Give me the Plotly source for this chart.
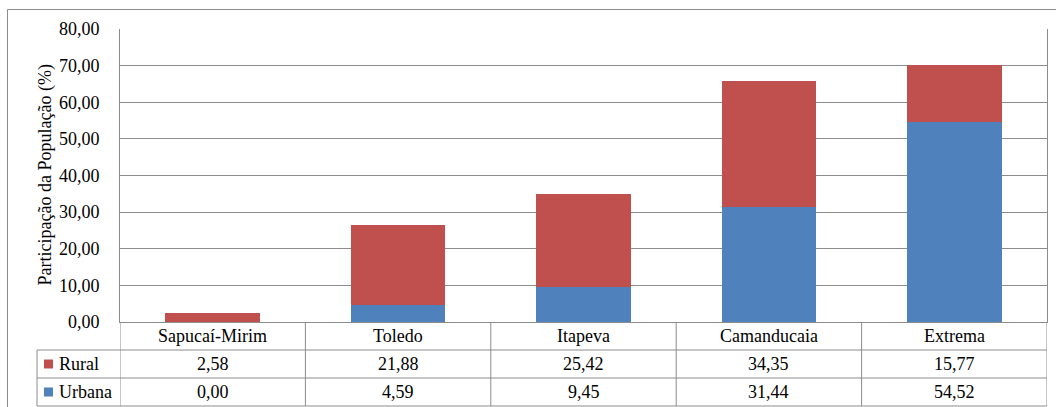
import plotly.graph_objects as go

# Municipal population share by area (%)
municipios = ["Sapucaí-Mirim", "Toledo", "Itapeva", "Camanducaia", "Extrema"]
rural = [2.58, 21.88, 25.42, 34.35, 15.77]
urbana = [0.00, 4.59, 9.45, 31.44, 54.52]
y_ticks = [0, 10, 20, 30, 40, 50, 60, 70, 80]

COR_RURAL = "#C0504D"
COR_URBANA = "#4F81BD"
GRID = "#8C8C8C"
FONT = "'Times New Roman', 'Liberation Serif', 'DejaVu Serif', serif"

W, H = 1056, 407
L, R, T, B = 120, 9, 29, 85
plot_w = W - L - R
plot_h = H - T - B


def py(pix):
    """Pixel row -> paper y."""
    return (H - B - pix) / plot_h


def px(pix):
    return (pix - L) / plot_w


fig = go.Figure()
fig.add_trace(go.Bar(x=municipios, y=urbana, name="Urbana", marker_color=COR_URBANA,
                     marker_line_width=0, width=0.51))
fig.add_trace(go.Bar(x=municipios, y=rural, name="Rural", marker_color=COR_RURAL,
                     marker_line_width=0, width=0.51))

shapes = []
# outer chart frame
shapes.append(dict(type="rect", xref="paper", yref="paper", x0=px(7.5), x1=px(1070),
                   y0=py(420), y1=py(9.5), line=dict(color="#8C8C8C", width=1), layer="below"))

# data table rows
row_lines = [350, 378, 406]
for r_pix in row_lines:
    shapes.append(dict(type="line", xref="paper", yref="paper", x0=px(37), x1=1,
                       y0=py(r_pix), y1=py(r_pix), line=dict(color=GRID, width=1)))
# column separators
n = len(municipios)
for i in range(n + 1):
    shapes.append(dict(type="line", xref="x", yref="paper", x0=i - 0.5, x1=i - 0.5,
                       y0=0, y1=py(406), line=dict(color=GRID, width=1)))
shapes.append(dict(type="line", xref="paper", yref="paper", x0=px(37), x1=px(37),
                   y0=py(350), y1=py(406), line=dict(color=GRID, width=1)))

txt_font = dict(family=FONT, size=18, color="#000")
annotations = []
fmt = lambda v: f"{v:.2f}".replace(".", ",")
for i, nome in enumerate(municipios):
    for row_pix, text in [(336, nome), (364, fmt(rural[i])), (392, fmt(urbana[i]))]:
        annotations.append(dict(x=nome, xref="x", yref="paper", y=py(row_pix), text=text,
                                xanchor="center", yanchor="middle", showarrow=False,
                                font=txt_font))

# legend keys within the table
for label, cor, row_pix in [("Rural", COR_RURAL, 364), ("Urbana", COR_URBANA, 392)]:
    shapes.append(dict(type="rect", xref="paper", yref="paper", x0=px(44), x1=px(53),
                       y0=py(row_pix + 4.5), y1=py(row_pix - 4.5), fillcolor=cor,
                       line=dict(width=0)))
    annotations.append(dict(x=px(57), xref="paper", yref="paper", y=py(row_pix), text=label,
                            xanchor="left", yanchor="middle", showarrow=False, font=txt_font))

annotations.append(dict(x=px(45), xref="paper", yref="paper", y=py((T + H - B) / 2),
                        text="Participação da População (%)", textangle=-90, showarrow=False,
                        xanchor="center", yanchor="middle", font=txt_font))

fig.update_layout(
    width=W, height=H,
    margin=dict(l=L, r=R, t=T, b=B),
    barmode="stack",
    showlegend=False,
    paper_bgcolor="white",
    plot_bgcolor="white",
    separators=",.",
    shapes=shapes,
    annotations=annotations,
    font=txt_font,
)
fig.update_xaxes(range=[-0.5, n - 0.5], showticklabels=False, showgrid=False,
                 showline=True, linecolor=GRID, ticks="")
fig.update_yaxes(range=[0, 80], tickvals=y_ticks, tickformat=".2f", showgrid=True,
                 gridcolor=GRID, gridwidth=1, showline=True, linecolor=GRID, mirror=True,
                 zeroline=False, ticks="", ticklabelstandoff=16, tickfont=txt_font)

fig.write_html("out.html")
